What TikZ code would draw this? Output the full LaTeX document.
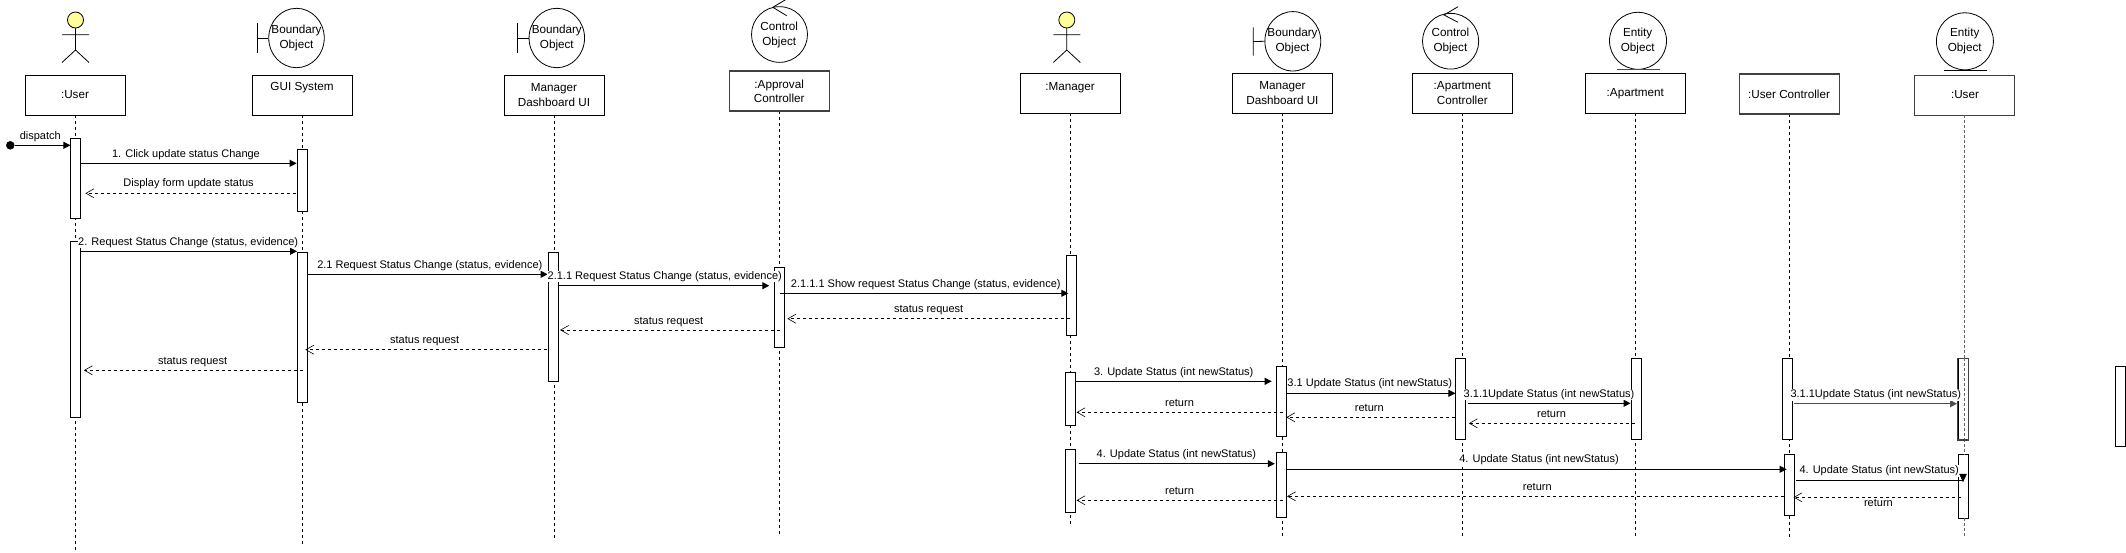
\documentclass[tikz,border=0pt]{standalone}
\usepackage{fontspec}
\setmainfont{Liberation Sans}
\usetikzlibrary{arrows.meta,shapes.geometric}
\definecolor{actorfill}{HTML}{FFFF99}
\tikzset{
  x=1pt,y=-1pt,
  lab/.style={font=\fontsize{11.7}{14.7}\selectfont,align=center,inner sep=0pt,text=black},
  msglab/.style={font=\fontsize{11}{13}\selectfont,inner sep=0.5pt,fill=white,text=black},
  head/.style={draw,line width=1pt,fill=white,minimum width=100pt,minimum height=40pt,inner sep=0pt},
  grayhead/.style={head,draw=black!75,line width=1.2pt},
  bar/.style={draw,line width=1pt,fill=white,minimum width=10pt,inner sep=0pt},
  lifeln/.style={line width=0.8pt,dash pattern=on 3pt off 3pt},
  sync/.style={line width=1pt,-{Triangle[length=7pt,width=7pt]}},
  reply/.style={line width=0.8pt,dash pattern=on 3pt off 3pt,-{Straight Barb[length=8pt,width=9pt,line width=0.6pt]}},
  obj/.style={draw,ellipse,line width=0.8pt},
}
\newcommand{\lane}[6]{% name, box centre x, y top, y bottom, lifeline x, end y
  \coordinate (#1top) at (#5,#4);\coordinate (#1end) at (#5,#6);
  \draw[lifeln] (#1top) -- (#1end);
}
\newcommand{\act}[5]{\node[bar,minimum height={(#5-#4)*1pt},anchor=north west] (#1) at (#2,#4) {};}
\begin{document}
\begin{tikzpicture}
\useasboundingbox (0,0) rectangle (2126,552);
% lifelines
\lane{l1}{0}{0}{115}{75}{551}
\lane{l2}{0}{0}{115}{302.5}{544}
\lane{l3}{0}{0}{115}{554.4}{539}
\lane{l4}{0}{0}{111}{779.6}{534}
\lane{l5}{0}{0}{113}{1070.4}{524}
\lane{l6}{0}{0}{113}{1282.8}{537}
\lane{l7}{0}{0}{113}{1462.3}{537}
\lane{l8}{0}{0}{113}{1635.3}{537}
\lane{l9}{0}{0}{114}{1789.4}{537}
% head boxes
\node[head] (b1) at (75.7,95.3) {};
\node[lab] (t1) at (75,94.7) {:User};
\node[head] (b2) at (302.5,95.3) {};
\node[lab] (t2) at (302,87.7) {GUI System};
\node[head] (b3) at (554.5,95.3) {};
\node[lab] (t3) at (554,94.7) {Manager\\Dashboard UI};
\node[grayhead] (b4) at (779.5,91) {};
\node[lab] (t4) at (779.2,91.3) {:Approval\\Controller};
\node[head] (b5) at (1070.4,93.3) {};
\node[lab] (t5) at (1070,87.5) {:Manager};
\node[head] (b6) at (1282.5,93.3) {};
\node[lab] (t6) at (1282.4,92.8) {Manager\\Dashboard UI};
\node[head] (b7) at (1462.7,93.3) {};
\node[lab] (t7) at (1462.3,93.2) {:Apartment\\Controller};
\node[head] (b8) at (1635.5,93.3) {};
\node[lab] (t8) at (1635.3,93.7) {:Apartment};
\node[grayhead] (b9) at (1789.6,94) {};
\node[lab] (t9) at (1789,94) {:User Controller};
\node[grayhead] (b10) at (1964.7,95.3) {};
\node[lab] (t10) at (1965,94.7) {:User};
% actors
\foreach \nm/\cx in {aa/75.5,ab/1066.8}{
  \draw[line width=0.8pt] (\cx,28) -- (\cx,50) (\cx-13.5,34.8) -- (\cx+13.5,34.8)
     (\cx-13.5,62.5) -- (\cx,50) -- (\cx+13.5,62.5);
  \node[draw,circle,fill=actorfill,line width=0.8pt,minimum size=16pt,inner sep=0pt] (\nm) at (\cx,20) {};
}
% boundary objects
\node[obj,minimum width=55.5pt,minimum height=59.4pt,inner sep=0pt] (o1) at (296.5,38) {};
\draw[line width=0.8pt] (257.4,23.3) -- (257.4,52.7) (257.4,38) -- (o1.west);
\node[lab] (ot1) at (296.5,38) {Boundary\\Object};
\node[obj,minimum width=55.5pt,minimum height=59.4pt,inner sep=0pt] (o2) at (556.8,38) {};
\draw[line width=0.8pt] (517.6,23.3) -- (517.6,52.7) (517.6,38) -- (o2.west);
\node[lab] (ot2) at (556.8,38) {Boundary\\Object};
\node[obj,minimum width=55.9pt,minimum height=59.4pt,inner sep=0pt] (o3) at (1292.8,41.3) {};
\draw[line width=0.8pt] (1253.3,27.3) -- (1253.3,55.7) (1253.3,41.5) -- (o3.west);
\node[lab] (ot3) at (1292.5,41.2) {Boundary\\Object};
% control objects
\node[obj,minimum width=56pt,minimum height=55.7pt,inner sep=0pt] (c1) at (779.5,34.5) {};
\draw[line width=0.8pt] (786.7,-1) -- (772.8,7.3) -- (786.7,15.7);
\node[lab] (ct1) at (779.2,35.3) {Control\\Object};
\node[obj,minimum width=56.2pt,minimum height=55.7pt,inner sep=0pt] (c2) at (1450.6,41.2) {};
\draw[line width=0.8pt] (1458,6.7) -- (1444,15) -- (1458,22.3);
\node[lab] (ct2) at (1450.4,41.2) {Control\\Object};
% entity objects
\node[obj,minimum width=57pt,minimum height=57pt,inner sep=0pt] (e1) at (1638,40.8) {};
\draw[line width=1pt,black!70] (1616.6,69.7) -- (1659.7,69.7);
\node[lab] (et1) at (1637.7,41.2) {Entity\\Object};
\node[obj,minimum width=57pt,minimum height=57pt,inner sep=0pt] (e2) at (1964.9,41.3) {};
\draw[line width=0.9pt] (1943.5,70.5) -- (1986.6,70.5);
\node[lab] (et2) at (1964.7,41.2) {Entity\\Object};
% activations
\act{a1}{70.4}{80.6}{138.3}{218.3}
\act{a2}{69.6}{79.5}{241.3}{417.3}
\act{a3}{296.6}{306.4}{149.3}{211.3}
\act{a4}{297.4}{307.6}{251.7}{401.7}
\act{a5}{548.4}{558.7}{251.7}{381.3}
\act{a6}{774.4}{784.7}{266.7}{347}
\act{a7}{1065.7}{1075.8}{255}{335}
\act{a8}{1065.4}{1075.8}{372.3}{424.7}
\act{a9}{1065.4}{1075.8}{449.3}{512.3}
\act{a10}{1275.5}{1285.5}{366.3}{435.7}
\act{a11}{1275.5}{1285.5}{452.3}{517.3}
\act{a12}{1455.4}{1465.7}{358.3}{438.7}
\act{a13}{1630.5}{1640.5}{358.3}{438.7}
\act{a14}{1782.2}{1792.2}{358.3}{439}
\act{a15}{1784.2}{1794.2}{454.3}{515}
\act{a16}{1957.5}{1967.5}{358.3}{439}
\act{a17}{1957.5}{1967.5}{454.3}{518.3}
\act{a18}{2115.2}{2125.2}{366.3}{446.3}
\draw[line width=1pt,black!60,dash pattern=on 2.5pt off 2.5pt] (1964.7,115.3) -- (1964.7,358.3) (1964.7,439) -- (1964.7,454.3) (1964.7,518.3) -- (1964.7,538);
\draw[line width=1.2pt,black!75] (a16.north west) rectangle (a16.south east);
\draw[line width=1pt,black!60,dash pattern=on 2.5pt off 2.5pt] (1964.7,358.3) -- (1964.7,439);
% messages
\node[draw,circle,fill=black,minimum size=8pt,inner sep=0pt] (start) at (10.3,145.3) {};
\coordinate (m0) at (70.4,145.3);
\draw[sync] (start) -- (m0);
\node[msglab] (lm0) at (40.3,136.3) {dispatch};
\coordinate (m1a) at (80.6,163.3);\coordinate (m1b) at (296.6,163.3);
\draw[sync] (m1a) -- (m1b);
\node[msglab] (lm1) at (186,154.3) {1. Click update status Change};
\coordinate (m2a) at (296,193.3);\coordinate (m2b) at (85.4,193.3);
\draw[reply] (m2a) -- (m2b);
\node[msglab] (lm2) at (188.6,184) {Display form update status};
\coordinate (m3a) at (79.5,251.3);\coordinate (m3b) at (297,251.3);
\draw[sync] (m3a) -- (m3b);
\coordinate (m4a) at (307.6,274.3);\coordinate (m4b) at (547.6,274.3);
\draw[sync] (m4a) -- (m4b);
\node[msglab] (lm3) at (188.2,242.4) {2. Request Status Change (status, evidence)};
\node[msglab] (lm4) at (429.8,265.6) {2.1 Request Status Change (status, evidence)};
\coordinate (m5a) at (558.3,285.7);\coordinate (m5b) at (769.3,285.7);
\draw[sync] (m5a) -- (m5b);
\node[msglab] (lm5) at (664.8,276.4) {2.1.1 Request Status Change (status, evidence)};
\coordinate (m6a) at (780,293.3);\coordinate (m6b) at (1068.3,293.3);
\draw[sync] (m6a) -- (m6b);
\node[msglab] (lm6) at (925.8,284.4) {2.1.1.1 Show request Status Change (status, evidence)};
\coordinate (m7a) at (1070,318.7);\coordinate (m7b) at (787.3,318.7);
\draw[reply] (m7a) -- (m7b);
\node[msglab] (lm7) at (928.7,310) {status request};
\coordinate (m8a) at (780,330);\coordinate (m8b) at (560,330);
\draw[reply] (m8a) -- (m8b);
\node[msglab] (lm8) at (668.7,322) {status request};
\coordinate (m9a) at (546.8,349.7);\coordinate (m9b) at (305.3,349.7);
\draw[reply] (m9a) -- (m9b);
\node[msglab] (lm9) at (424.7,341.2) {status request};
\coordinate (m10a) at (302.5,370.3);\coordinate (m10b) at (83.8,370.3);
\draw[reply] (m10a) -- (m10b);
\node[msglab] (lm10) at (192.6,362) {status request};
\coordinate (n1a) at (1075.8,381.3);\coordinate (n1b) at (1271.7,381.3);
\draw[sync] (n1a) -- (n1b);
\node[msglab] (ln1) at (1173.7,372.3) {3. Update Status (int newStatus)};
\coordinate (n2a) at (1283,412.3);\coordinate (n2b) at (1076.5,412.3);
\draw[reply] (n2a) -- (n2b);
\node[msglab] (ln2) at (1179.5,403.3) {return};
\coordinate (n3a) at (1285.5,393.3);\coordinate (n3b) at (1455.4,393.3);
\draw[sync] (n3a) -- (n3b);
\node[msglab] (ln3) at (1369.7,384) {3.1 Update Status (int newStatus)};
\coordinate (n4a) at (1454.6,417.3);\coordinate (n4b) at (1286.3,417.3);
\draw[reply] (n4a) -- (n4b);
\node[msglab] (ln4) at (1369.3,408.3) {return};
\coordinate (n5a) at (1467.7,403.3);\coordinate (n5b) at (1630.5,403.3);
\draw[sync] (n5a) -- (n5b);
\node[msglab] (ln5) at (1549,394.3) {3.1.1Update Status (int newStatus)};
\coordinate (n6a) at (1635,423.3);\coordinate (n6b) at (1468.8,423.3);
\draw[reply] (n6a) -- (n6b);
\node[msglab] (ln6) at (1551.5,414.3) {return};
\coordinate (n7a) at (1794.2,403.7);\coordinate (n7b) at (1957,403.7);
\draw[line width=1.3pt,black!70,-{Triangle[length=7pt,width=7pt]}] (n7a) -- (n7b);
\node[msglab] (ln7) at (1875.8,395) {3.1.1Update Status (int newStatus)};
\coordinate (n8a) at (1078.5,463.7);\coordinate (n8b) at (1274.8,463.7);
\draw[sync] (n8a) -- (n8b);
\node[msglab] (ln8) at (1176.4,454.3) {4. Update Status (int newStatus)};
\coordinate (n9a) at (1283,500.3);\coordinate (n9b) at (1076.5,500.3);
\draw[reply] (n9a) -- (n9b);
\node[msglab] (ln9) at (1179.5,491.3) {return};
\coordinate (n10a) at (1287,469.3);\coordinate (n10b) at (1786.6,469.3);
\draw[sync] (n10a) -- (n10b);
\node[msglab] (ln10) at (1539,460) {4. Update Status (int newStatus)};
\coordinate (n11a) at (1784,496.3);\coordinate (n11b) at (1287,496.3);
\draw[reply] (n11a) -- (n11b);
\node[msglab] (ln11) at (1537.3,487.3) {return};
\coordinate (n12a) at (1796.2,480.3);\coordinate (n12b) at (1963,480.3);
\draw[line width=1pt] (n12a) -- (n12b);
\draw[fill=black] (1959.5,474) -- (1966.5,474) -- (1963,481.7) -- cycle;
\node[msglab] (ln12) at (1879.2,471) {4. Update Status (int newStatus)};
\coordinate (n13a) at (1961,497.3);\coordinate (n13b) at (1793.4,497.3);
\draw[reply] (n13a) -- (n13b);
\node[msglab] (ln13) at (1878.4,503.3) {return};
\end{tikzpicture}
\end{document}
